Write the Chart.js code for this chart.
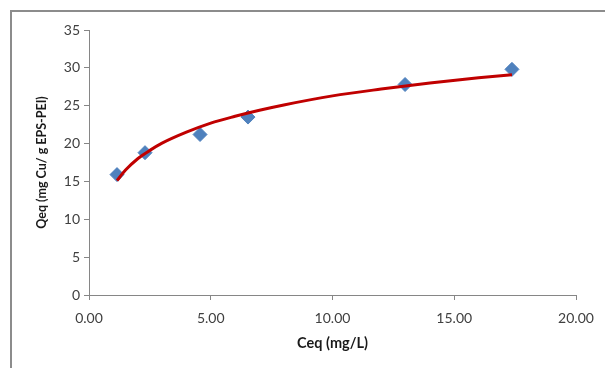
<!DOCTYPE html>
<html>
<head>
<meta charset="utf-8">
<script src="https://cdn.jsdelivr.net/npm/chart.js@4"></script>
<style>
  html, body { margin: 0; padding: 0; background: #fff; }
  #wrap { position: relative; width: 605px; height: 368px; overflow: hidden; }
  #frame { position: absolute; left: 10px; top: 10px; width: 700px; height: 500px;
           border-top: 2px solid #8c8c8c; border-left: 2px solid #8c8c8c; }
  canvas { position: absolute; left: 0; top: 0; }
</style>
</head>
<body>
<div id="wrap">
  <div id="frame"></div>
  <canvas id="chart" width="605" height="368"></canvas>
</div>
<script>
// measured points
const ceq = [1.15, 2.30, 4.56, 6.53, 12.98, 17.37];
const qeq = [15.9, 18.8, 21.2, 23.5, 27.8, 29.8];

// red trend line
const trendX = [1.15, 1.5, 2, 2.5, 3, 4, 5, 6, 7, 8, 10, 12, 14, 16, 17.37];
const trendY = [15.1, 16.5, 18.0, 19.1, 20.05, 21.5, 22.7, 23.6, 24.4, 25.1, 26.3, 27.2, 28.0, 28.7, 29.1];

const xTicks = [0, 5, 10, 15, 20];
const yTicks = [0, 5, 10, 15, 20, 25, 30, 35];

const ctx = document.getElementById('chart').getContext('2d');
const myChart = new Chart(ctx, {
    type: 'scatter',
    data: {
        datasets: [{
            label: 'Qeq',
            data: ceq.map((x, i) => ({ x: x, y: qeq[i] })),
            backgroundColor: '#4F81BD',
            borderColor: '#4F81BD',
            pointStyle: 'rectRot',
            pointRadius: 7,
            pointHoverRadius: 7,
            order: 2
        }, {
            label: 'trend',
            type: 'line',
            data: trendX.map((x, i) => ({ x: x, y: trendY[i] })),
            borderColor: '#C00000',
            borderWidth: 3,
            pointRadius: 0,
            cubicInterpolationMode: 'monotone',
            fill: false,
            order: 1
        }]
    },
    options: {
        responsive: false,
        animation: false,
        layout: { padding: { left: 30, right: 29, top: 30, bottom: 12 } },
        plugins: {
            legend: { display: false },
            tooltip: { enabled: false }
        },
        scales: {
            x: {
                type: 'linear',
                min: 0,
                max: 20,
                afterBuildTicks: axis => { axis.ticks = xTicks.map(v => ({ value: v })); },
                afterFit: axis => { axis.height = 61; },
                border: { color: '#868686', width: 1 },
                grid: { drawOnChartArea: false, drawTicks: true, tickLength: 5, color: '#868686' },
                ticks: {
                    color: '#404040',
                    font: { family: 'Lato', size: 14 },
                    padding: 10,
                    callback: v => v.toFixed(2)
                },
                title: {
                    display: true,
                    text: 'Ceq (mg/L)',
                    color: '#1a1a1a',
                    font: { family: 'Lato', size: 14.5, weight: 'bold' },
                    padding: { top: 4 }
                }
            },
            y: {
                min: 0,
                max: 35,
                afterBuildTicks: axis => { axis.ticks = yTicks.map(v => ({ value: v })); },
                afterFit: axis => { axis.width = 59; },
                border: { color: '#868686', width: 1 },
                grid: { drawOnChartArea: false, drawTicks: true, tickLength: 5, color: '#868686' },
                ticks: {
                    color: '#404040',
                    font: { family: 'Lato', size: 14 },
                    padding: 4
                },
                title: {
                    display: true,
                    text: 'Qeq (mg Cu/ g EPS-PEI)',
                    color: '#1a1a1a',
                    font: { family: 'Lato', size: 12.5, weight: 'bold' },
                    padding: { bottom: 4 }
                }
            }
        }
    }
});
</script>
</body>
</html>
